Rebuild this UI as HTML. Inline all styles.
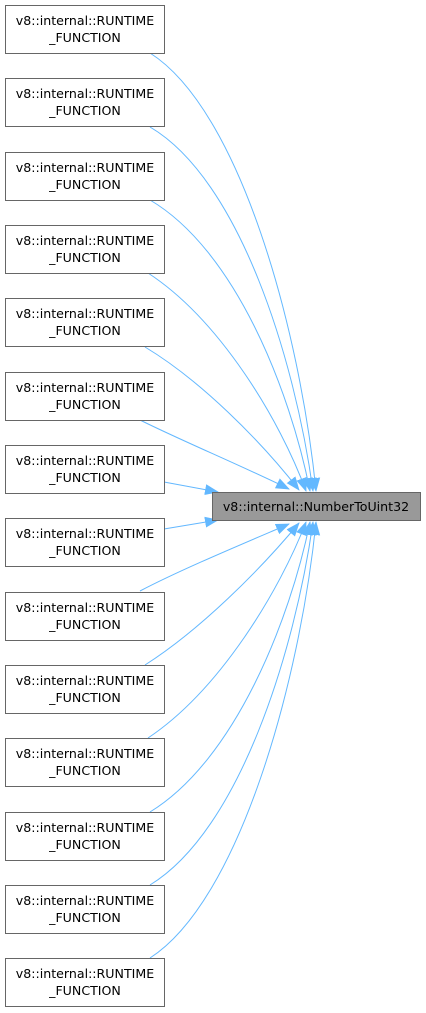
<!DOCTYPE html>
<html><head><meta charset="utf-8"><style>
body{margin:0;background:#fff;width:426px;height:1013px;overflow:hidden}
svg{display:block}
text{font-family:"DejaVu Sans","Liberation Sans",sans-serif;font-size:12.6px;fill:#000}
</style></head><body>
<svg width="426" height="1013" viewBox="0 0 426 1013">
<defs><marker id="a" markerWidth="14" markerHeight="12" refX="13" refY="6" orient="auto" markerUnits="userSpaceOnUse"><path d="M0,0.5 L14,6 L0,11.5 z" fill="#63b8ff"/></marker></defs>
<g fill="none" stroke="#63b8ff" stroke-width="1" marker-end="url(#a)">
<path d="M150,53 C240,110 300,330 316,491"/>
<path d="M150,127 C240,180 295,360 313,491"/>
<path d="M150,200 C235,250 290,390 310,491"/>
<path d="M148,273 C220,320 280,420 306,491"/>
<path d="M145,347 C200,380 260,440 299,490"/>
<path d="M140,420 C180,440 240,465 289,489"/>
<path d="M164,482 L218,492"/>
<path d="M164,529 L218,520"/>
<path d="M140,591 C180,570 240,545 289,524"/>
<path d="M145,665 C200,630 260,570 299,523"/>
<path d="M148,738 C220,690 280,590 306,522"/>
<path d="M150,812 C235,760 290,620 310,522"/>
<path d="M150,885 C240,830 295,650 313,522"/>
<path d="M150,958 C240,900 300,680 316,522"/>
</g>
<g fill="#fff" stroke="#666" stroke-width="1">
<rect x="5.5" y="5.5" width="159" height="48"/>
<rect x="5.5" y="78.5" width="159" height="48"/>
<rect x="5.5" y="152.5" width="159" height="48"/>
<rect x="5.5" y="225.5" width="159" height="48"/>
<rect x="5.5" y="298.5" width="159" height="48"/>
<rect x="5.5" y="372.5" width="159" height="48"/>
<rect x="5.5" y="445.5" width="159" height="48"/>
<rect x="5.5" y="518.5" width="159" height="48"/>
<rect x="5.5" y="592.5" width="159" height="48"/>
<rect x="5.5" y="665.5" width="159" height="48"/>
<rect x="5.5" y="738.5" width="159" height="48"/>
<rect x="5.5" y="812.5" width="159" height="48"/>
<rect x="5.5" y="885.5" width="159" height="48"/>
<rect x="5.5" y="958.5" width="159" height="48"/>
</g>
<rect x="212.5" y="492.5" width="208" height="28" fill="#999" stroke="#666"/>
<text x="316" y="511" text-anchor="middle">v8::internal::NumberToUint32</text>
<g text-anchor="middle">
<text x="85" y="25">v8::internal::RUNTIME</text><text x="85" y="42">_FUNCTION</text>
<text x="85" y="98">v8::internal::RUNTIME</text><text x="85" y="115">_FUNCTION</text>
<text x="85" y="172">v8::internal::RUNTIME</text><text x="85" y="189">_FUNCTION</text>
<text x="85" y="245">v8::internal::RUNTIME</text><text x="85" y="262">_FUNCTION</text>
<text x="85" y="318">v8::internal::RUNTIME</text><text x="85" y="335">_FUNCTION</text>
<text x="85" y="392">v8::internal::RUNTIME</text><text x="85" y="409">_FUNCTION</text>
<text x="85" y="465">v8::internal::RUNTIME</text><text x="85" y="482">_FUNCTION</text>
<text x="85" y="538">v8::internal::RUNTIME</text><text x="85" y="555">_FUNCTION</text>
<text x="85" y="612">v8::internal::RUNTIME</text><text x="85" y="629">_FUNCTION</text>
<text x="85" y="685">v8::internal::RUNTIME</text><text x="85" y="702">_FUNCTION</text>
<text x="85" y="758">v8::internal::RUNTIME</text><text x="85" y="775">_FUNCTION</text>
<text x="85" y="832">v8::internal::RUNTIME</text><text x="85" y="849">_FUNCTION</text>
<text x="85" y="905">v8::internal::RUNTIME</text><text x="85" y="922">_FUNCTION</text>
<text x="85" y="978">v8::internal::RUNTIME</text><text x="85" y="995">_FUNCTION</text>
</g>
</svg>
</body></html>
